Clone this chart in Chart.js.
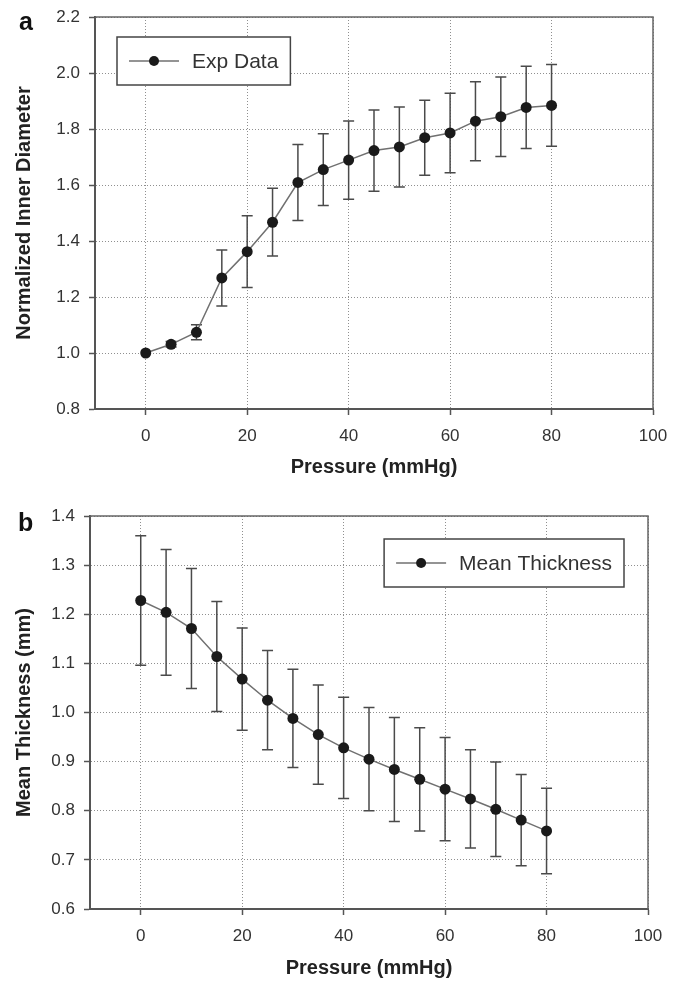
<!DOCTYPE html>
<html><head><meta charset="utf-8">
<script src="https://cdn.jsdelivr.net/npm/chart.js@4.4.0/dist/chart.umd.min.js"></script>
<style>
html,body{margin:0;padding:0;background:#fff;overflow:hidden;}
#wrap{position:relative;width:673px;height:984px;overflow:hidden;}
.c{position:absolute;left:0;width:673px;}
.lbl{position:absolute;font:bold 25px "Liberation Sans",Arial,sans-serif;line-height:1;color:#111;}
</style></head><body>
<div id="wrap">
<div class="c" style="top:0;height:490px"><canvas id="ca"></canvas></div>
<div class="c" style="top:490px;height:494px"><canvas id="cb"></canvas></div>
<div class="lbl" style="left:19px;top:9px">a</div>
<div class="lbl" style="left:18px;top:510px">b</div>
</div>
<script>
// ---- data ----
const pressure = [0,5,10,15,20,25,30,35,40,45,50,55,60,65,70,75,80];
const diameterMean = [1.000,1.031,1.074,1.268,1.362,1.467,1.609,1.655,1.689,1.723,1.736,1.769,1.786,1.828,1.844,1.877,1.884];
const diameterErr  = [0,0.010,0.027,0.100,0.128,0.121,0.136,0.128,0.140,0.145,0.143,0.134,0.142,0.141,0.142,0.147,0.146];
const thicknessMean = [1.228,1.204,1.171,1.114,1.068,1.025,0.988,0.955,0.928,0.905,0.884,0.864,0.844,0.824,0.803,0.781,0.759];
const thicknessErr  = [0.132,0.128,0.122,0.112,0.104,0.101,0.100,0.101,0.103,0.105,0.106,0.105,0.105,0.100,0.096,0.093,0.087];
const xTicks = [0,20,40,60,80,100];
const yTicksA = [0.8,1.0,1.2,1.4,1.6,1.8,2.0,2.2];
const yTicksB = [0.6,0.7,0.8,0.9,1.0,1.1,1.2,1.3,1.4];
const xTitle = 'Pressure (mmHg)';
const yTitleA = 'Normalized Inner Diameter';
const yTitleB = 'Mean Thickness (mm)';
const legendA = 'Exp Data';
const legendB = 'Mean Thickness';

const FONT = '"Liberation Sans", Arial, Helvetica, sans-serif';
Chart.defaults.font.family = FONT;
Chart.defaults.color = '#333';

const errPlugin = {
  id: 'errBars',
  beforeDatasetsDraw(chart) {
    const {ctx, chartArea: a, scales: {x, y}} = chart;
    ctx.save();
    ctx.strokeStyle = '#666'; ctx.lineWidth = 1.5; ctx.setLineDash([]);
    ctx.beginPath(); ctx.moveTo(a.left, a.top); ctx.lineTo(a.right, a.top); ctx.lineTo(a.right, a.bottom); ctx.stroke();
    const ds = chart.data.datasets[0];
    ctx.strokeStyle = '#4a4a4a'; ctx.lineWidth = 1.5;
    ds.data.forEach((p, i) => {
      const e = ds.errors[i];
      if (!e) return;
      const px = x.getPixelForValue(p.x);
      const yt = y.getPixelForValue(p.y + e);
      const yb = y.getPixelForValue(p.y - e);
      ctx.beginPath();
      ctx.moveTo(px, yt); ctx.lineTo(px, yb);
      ctx.moveTo(px - 5.5, yt); ctx.lineTo(px + 5.5, yt);
      ctx.moveTo(px - 5.5, yb); ctx.lineTo(px + 5.5, yb);
      ctx.stroke();
    });
    ctx.restore();
  },
  afterDraw(chart, args, o) {
    const {ctx, chartArea: a} = chart;
    if (!o || !o.text) return;
    ctx.save();
    ctx.font = '21px ' + FONT;
    const tw = ctx.measureText(o.text).width;
    const w = 12 + 50 + 13 + tw + 12, h = 48;
    const left = o.right ? a.right - o.dx - w : a.left + o.dx;
    const top = a.top + o.dy;
    ctx.fillStyle = '#fff'; ctx.fillRect(left, top, w, h);
    ctx.strokeStyle = '#444'; ctx.lineWidth = 1.5; ctx.strokeRect(left, top, w, h);
    const cy = top + h / 2;
    ctx.strokeStyle = '#707070'; ctx.lineWidth = 1.5;
    ctx.beginPath(); ctx.moveTo(left + 12, cy); ctx.lineTo(left + 62, cy); ctx.stroke();
    ctx.fillStyle = '#1a1a1a';
    ctx.beginPath(); ctx.arc(left + 37, cy, 5, 0, Math.PI * 2); ctx.fill();
    ctx.fillStyle = '#333'; ctx.textBaseline = 'middle'; ctx.textAlign = 'left';
    ctx.fillText(o.text, left + 75, cy + 1);
    ctx.restore();
  }
};

function makeChart(id, cfg) {
  const pts = pressure.map((p, i) => ({x: p, y: cfg.mean[i]}));
  const grid = {color: '#8f8f8f', lineWidth: 1, drawTicks: true,
    tickLength: 6, tickColor: '#555', tickWidth: 1.5, tickBorderDash: []};
  const border = {display: true, color: '#555', width: 2, dash: [1, 2]};
  return new Chart(document.getElementById(id), {
    type: 'line',
    data: {datasets: [{
      data: pts, errors: cfg.err,
      borderColor: '#707070', borderWidth: 1.5,
      pointRadius: 5.5, pointBackgroundColor: '#1a1a1a', pointBorderColor: '#1a1a1a', pointBorderWidth: 0,
      tension: 0, fill: false
    }]},
    options: {
      responsive: true, maintainAspectRatio: false, animation: false,
      layout: {padding: {top: cfg.padTop, right: cfg.padRight, left: 0, bottom: 0}},
      plugins: {legend: {display: false}, tooltip: {enabled: false},
        errBars: {text: cfg.legend, dx: cfg.legDx, dy: cfg.legDy, right: cfg.legRight}},
      scales: {
        x: {
          type: 'linear', min: -10, max: 100,
          afterBuildTicks: s => { s.ticks = xTicks.map(v => ({value: v})); },
          afterFit: s => { s.height = cfg.xHeight; s.paddingRight = 0; s.paddingLeft = 0; },
          grid: grid, border: border,
          ticks: {font: {size: 17}, color: '#333', padding: 11, maxRotation: 0,
            callback: v => String(v)},
          title: {display: true, text: xTitle, font: {size: 20, weight: 'bold'}, color: '#222',
            padding: {top: 0, bottom: cfg.xTitlePad}}
        },
        y: {
          type: 'linear', min: cfg.yMin, max: cfg.yMax,
          afterBuildTicks: s => { s.ticks = cfg.yTicks.map(v => ({value: v})); },
          afterFit: s => { s.width = cfg.yWidth; s.paddingTop = 0; s.paddingBottom = 0; },
          grid: grid, border: border,
          ticks: {font: {size: 17}, color: '#333', padding: 9,
            callback: v => Number(v).toFixed(1)},
          title: {display: true, text: cfg.yTitle, font: {size: 20, weight: 'bold'}, color: '#222',
            padding: {top: 12, bottom: 0}}
        }
      }
    },
    plugins: [errPlugin]
  });
}

makeChart('ca', {mean: diameterMean, err: diameterErr, yMin: 0.8, yMax: 2.2, yTicks: yTicksA,
  yTitle: yTitleA, legend: legendA, legDx: 22, legDy: 20, legRight: false,
  padTop: 17, padRight: 20, xHeight: 81, yWidth: 95, xTitlePad: 11});
makeChart('cb', {mean: thicknessMean, err: thicknessErr, yMin: 0.6, yMax: 1.4, yTicks: yTicksB,
  yTitle: yTitleB, legend: legendB, legDx: 24, legDy: 23, legRight: true,
  padTop: 26, padRight: 25, xHeight: 75, yWidth: 90, xTitlePad: 4});
</script>
</body></html>
